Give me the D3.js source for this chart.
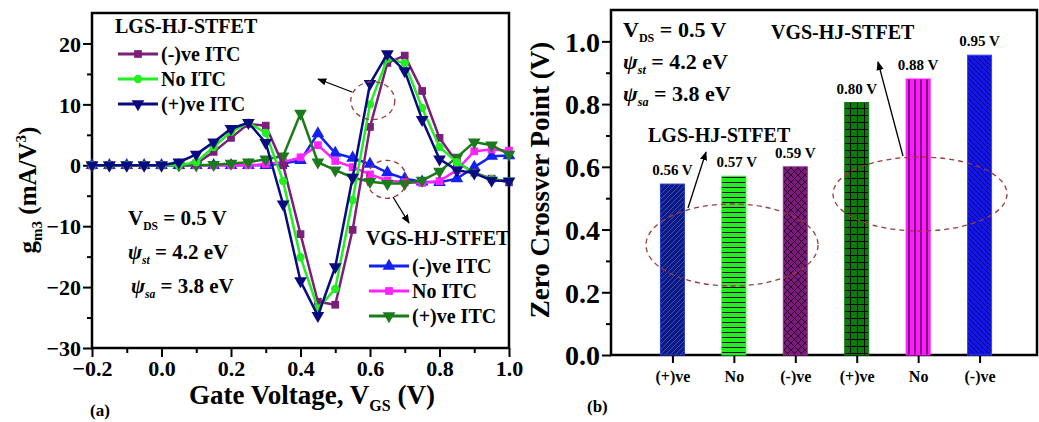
<!DOCTYPE html>
<html>
<head>
<meta charset="utf-8">
<script src="https://cdn.jsdelivr.net/npm/d3@7"></script>
<style>
  body { margin: 0; background: #fff; }
  svg { font-family: "Liberation Serif", "Times New Roman", serif; font-weight: bold; }
</style>
</head>
<body>
<div id="chart"></div>
<script>
// ---- data: panel (a) ----
const vgs = [-0.2, -0.15, -0.1, -0.05, 0.0, 0.05, 0.1, 0.15, 0.2, 0.25, 0.3, 0.35, 0.4,
  0.45, 0.5, 0.55, 0.6, 0.65, 0.7, 0.75, 0.8, 0.85, 0.9, 0.95, 1.0];
const lgsNeg = [0, 0, 0, 0, 0, 0, 0.3, 2.2, 4.5, 6.8, 6.5, 0, -11.3, -22.4, -22.9, -10.6, 6.3, 16.8, 18, 12.2, 4.5, 0.5, -1.2, -2.2, -2.8];
const lgsNo = [0, 0, 0, 0, 0, 0, 0.5, 3, 5.5, 7, 5.3, -2.6, -15.1, -23.5, -20.3, -5.7, 10, 17.5, 16.8, 9.4, 3, 0.5, -1.3, -2.3, -2.6];
const lgsPos = [0, 0, 0, 0, 0, 0.5, 1.8, 3.8, 6, 7, 3.7, -6.4, -19, -24.7, -16.7, -2, 13.4, 18.3, 15.5, 7.5, 1, -0.8, -1.3, -2.5, -2.6];
const vgsNeg = [0, 0, 0, 0, 0, 0, 0, 0, 0, 0, 0, 0.3, 0.8, 5.2, 2, 1.2, 0.2, -1.2, -2.2, -2.7, -2.8, -2.2, -0.3, 1.5, 1.6];
const vgsNo = [0, 0, 0, 0, 0, 0, 0, 0, 0, 0, 0.2, 0.5, 1.3, 3.3, 0.7, -0.3, -1.5, -2.5, -2.8, -2.9, -2.6, -0.8, 2.3, 2.6, 2.4];
const vgsPos = [0, 0, 0, 0, 0, 0, 0, 0.1, 0.3, 0.5, 1, 1.5, 8.5, 0.5, -0.8, -2, -2.7, -3, -3, -2.5, -1, 1.3, 3.8, 3.3, 1.8];
const seriesNames = ['(-)ve ITC', 'No ITC', '(+)ve ITC'];
const yTicksA = [-30, -20, -10, 0, 10, 20];
const xTicksA = [-0.2, 0.0, 0.2, 0.4, 0.6, 0.8, 1.0];

// ---- data: panel (b) ----
const barCats = ['(+)ve', 'No', '(-)ve', '(+)ve', 'No', '(-)ve'];
const barValues = [0.545, 0.57, 0.6, 0.805, 0.88, 0.956];
const barLabels = ['0.56 V', '0.57 V', '0.59 V', '0.80 V', '0.88 V', '0.95 V'];
const yTicksB = [0.0, 0.2, 0.4, 0.6, 0.8, 1.0];

const width = 1039, height = 422;
const svg = d3.select('#chart').append('svg').attr('width', width).attr('height', height);
const defs = svg.append('defs');

// ================= panel (a) =================
const xA = d3.scaleLinear().domain([-0.2, 1.0]).range([92, 509]);
const yA = d3.scaleLinear().domain([-30, 25]).range([348, 13]);

const gA = svg.append('g');

// ticks helper
const addTicks = (g, axis, pos) => g.append('g').attr('transform', pos).call(axis)
  .call(s => s.select('.domain').remove())
  .call(s => s.selectAll('line').attr('stroke', '#000').attr('stroke-width', 2));

// minor ticks
addTicks(gA, d3.axisLeft(yA).tickValues(d3.range(-25, 25, 10)).tickSize(5).tickFormat(''), 'translate(92,0)');
addTicks(gA, d3.axisBottom(xA).tickValues(d3.range(-0.1, 1.0, 0.2)).tickSize(5).tickFormat(''), 'translate(0,348)');

const yAxA = addTicks(gA, d3.axisLeft(yA).tickValues(yTicksA).tickSize(9).tickPadding(2).tickFormat(d3.format('d')), 'translate(92,0)');
yAxA.selectAll('text').attr('font-size', 22).attr('font-family', 'Liberation Serif').attr('font-weight', 'bold').attr('fill', '#000').attr('dy', '0.35em');
const xAxA = addTicks(gA, d3.axisBottom(xA).tickValues(xTicksA).tickSize(9).tickPadding(3).tickFormat(d3.format('.1f')), 'translate(0,348)');
xAxA.selectAll('text').attr('font-size', 22).attr('font-family', 'Liberation Serif').attr('font-weight', 'bold').attr('fill', '#000');

// frame
gA.append('rect').attr('x', xA(-0.2)).attr('y', yA(25)).attr('width', xA(1.0) - xA(-0.2)).attr('height', yA(-30) - yA(25))
  .attr('fill', 'none').attr('stroke', '#000').attr('stroke-width', 2.5);

const curves = [
  { data: lgsNeg, color: '#7b1f7b', sym: 'square' },
  { data: lgsNo, color: '#22ee22', sym: 'circle' },
  { data: lgsPos, color: '#0a0a80', sym: 'down' },
  { data: vgsNeg, color: '#1420f0', sym: 'up' },
  { data: vgsNo, color: '#ff22ff', sym: 'square' },
  { data: vgsPos, color: '#1b7a1b', sym: 'down' }
];

const symPath = (t) => {
  if (t === 'square') return d3.symbol(d3.symbolSquare, 60)();
  if (t === 'circle') return d3.symbol(d3.symbolCircle, 55)();
  return d3.symbol(d3.symbolTriangle, 70)();
};
const symRot = t => t === 'down' ? ' rotate(180)' : '';

const line = d3.line().x((d, i) => xA(vgs[i])).y(d => yA(d));
const plot = gA.append('g');
// VGS curves first, LGS on top
[3, 4, 5, 0, 1, 2].forEach(k => {
  const c = curves[k];
  plot.append('path').datum(c.data).attr('d', line)
    .attr('fill', 'none').attr('stroke', c.color).attr('stroke-width', 2.5);
  plot.selectAll(null).data(c.data).enter().append('path')
    .attr('d', symPath(c.sym))
    .attr('transform', (d, i) => `translate(${xA(vgs[i])},${yA(d)})${symRot(c.sym)}`)
    .attr('fill', c.color);
});

// legends
const legend = (g, x, y, title, items) => {
  g.append('text').attr('x', x - 3).attr('y', y).attr('font-size', 20).text(title);
  items.forEach((c, i) => {
    const ly = y + 21 + i * 25;
    g.append('line').attr('x1', x).attr('x2', x + 40).attr('y1', ly).attr('y2', ly)
      .attr('stroke', c.color).attr('stroke-width', 3);
    g.append('path').attr('d', symPath(c.sym))
      .attr('transform', `translate(${x + 20},${ly})${symRot(c.sym)}`).attr('fill', c.color);
    g.append('text').attr('x', x + 43).attr('y', ly + 7).attr('font-size', 20).text(seriesNames[i]);
  });
};
legend(gA, 118, 33, 'LGS-HJ-STFET', curves.slice(0, 3));
legend(gA, 369, 245, 'VGS-HJ-STFET', curves.slice(3, 6));

// parameter block
const params = (g, x, y, fs, gap) => {
  const t1 = g.append('text').attr('x', x).attr('y', y).attr('font-size', fs);
  t1.append('tspan').text('V');
  t1.append('tspan').attr('font-size', fs * 0.55).attr('dy', 5).text('DS');
  t1.append('tspan').attr('dy', -5).text(' = 0.5 V');
  const t2 = g.append('text').attr('x', x).attr('y', y + gap).attr('font-size', fs);
  t2.append('tspan').attr('font-style', 'italic').text('ψ');
  t2.append('tspan').attr('font-style', 'italic').attr('font-size', fs * 0.55).attr('dy', 5).text('st');
  t2.append('tspan').attr('dy', -5).text(' = 4.2 eV');
  const t3 = g.append('text').attr('x', x + (fs > 21 ? 0 : 3)).attr('y', y + 2 * gap).attr('font-size', fs);
  t3.append('tspan').attr('font-style', 'italic').text('ψ');
  t3.append('tspan').attr('font-style', 'italic').attr('font-size', fs * 0.55).attr('dy', 5).text('sa');
  t3.append('tspan').attr('dy', -5).text(' = 3.8 eV');
};
params(gA, 128, 225, 21, 34);

// dashed ellipses and arrows
const marker = defs.append('marker').attr('id', 'arr').attr('viewBox', '0 0 10 10')
  .attr('refX', 9).attr('refY', 5).attr('markerWidth', 7).attr('markerHeight', 7)
  .attr('orient', 'auto-start-reverse');
marker.append('path').attr('d', 'M0,1 L10,5 L0,9 z').attr('fill', '#000');

const ell = (g, cx, cy, rx, ry) => g.append('ellipse').attr('cx', cx).attr('cy', cy).attr('rx', rx).attr('ry', ry)
  .attr('fill', 'none').attr('stroke', '#9b3a3a').attr('stroke-width', 1.3).attr('stroke-dasharray', '5,4');
const arrow = (g, x1, y1, x2, y2) => g.append('line').attr('x1', x1).attr('y1', y1).attr('x2', x2).attr('y2', y2)
  .attr('stroke', '#000').attr('stroke-width', 1.3).attr('marker-end', 'url(#arr)');

ell(gA, xA(0.608), yA(10.6), 22, 19);
arrow(gA, 352, 92, 318, 79);
ell(gA, xA(0.648), yA(-2.3), 20, 19);
arrow(gA, 393, 197, 409, 223);

// axis titles
const yt = gA.append('text').attr('transform', 'translate(36,190) rotate(-90)').attr('text-anchor', 'middle').attr('font-size', 25);
yt.append('tspan').text('g');
yt.append('tspan').attr('font-size', 15).attr('dy', 6).text('m3');
yt.append('tspan').attr('dy', -6).text(' (mA/V');
yt.append('tspan').attr('font-size', 15).attr('dy', -10).text('3');
yt.append('tspan').attr('dy', 10).text(')');

const xt = gA.append('text').attr('x', 312).attr('y', 404).attr('text-anchor', 'middle').attr('font-size', 27);
xt.append('tspan').text('Gate Voltage, V');
xt.append('tspan').attr('font-size', 16).attr('dy', 7).text('GS');
xt.append('tspan').attr('dy', -7).text(' (V)');

gA.append('text').attr('x', 90).attr('y', 416).attr('font-size', 17).text('(a)');

// ================= panel (b) =================
const xB = d3.scaleLinear().domain([0, 7]).range([611, 1041]);
const yB = d3.scaleLinear().domain([0, 1.1]).range([355, 10]);
const gB = svg.append('g');

// patterns
const pat = (id, bg, size, lines, stroke, sw) => {
  const p = defs.append('pattern').attr('id', id).attr('patternUnits', 'userSpaceOnUse')
    .attr('width', size).attr('height', size);
  p.append('rect').attr('width', size).attr('height', size).attr('fill', bg);
  lines.forEach(d => p.append('path').attr('d', d).attr('stroke', stroke).attr('stroke-width', sw).attr('fill', 'none'));
};
pat('p0', '#0b1a80', 5, ['M0,5 L5,0', 'M-1,1 L1,-1', 'M4,6 L6,4'], '#3a4cc0', 1);
pat('p1', '#22ee22', 5, ['M0,2.5 L5,2.5'], '#000', 1);
pat('p2', '#7e1a7e', 7, ['M0,7 L7,0', 'M0,0 L7,7', 'M-1,1 L1,-1', 'M6,8 L8,6', 'M-1,6 L1,8', 'M6,-1 L8,1'], '#1a001a', 0.9);
pat('p3', '#0e7a0e', 7, ['M0,3.5 L7,3.5', 'M3.5,0 L3.5,7'], '#000', 1);
pat('p4', '#ff1aff', 6, ['M3,0 L3,6'], '#000', 1);
pat('p5', '#1414ee', 5, ['M0,0 L5,5', 'M-1,4 L1,6', 'M4,-1 L6,1'], '#0a0a70', 1);
const barStroke = ['#2a3acc', '#22ee22', '#9b2a9b', '#0e7a0e', '#ff1aff', '#3344ff'];

addTicks(gB, d3.axisLeft(yB).tickValues(d3.range(0.1, 1.1, 0.2)).tickSize(5).tickFormat(''), 'translate(611,0)');
const yAxB = addTicks(gB, d3.axisLeft(yB).tickValues(yTicksB).tickSize(9).tickPadding(2).tickFormat(d3.format('.1f')), 'translate(611,0)');
yAxB.selectAll('text').attr('font-size', 28).attr('font-family', 'Liberation Serif').attr('font-weight', 'bold').attr('fill', '#000').attr('dy', '0.35em');
const xAxB = addTicks(gB, d3.axisBottom(xB).tickValues(d3.range(1, 7)).tickSize(8).tickPadding(8).tickFormat(i => barCats[i - 1]), 'translate(0,355)');
xAxB.selectAll('text').attr('font-size', 16).attr('font-family', 'Liberation Serif').attr('font-weight', 'bold').attr('fill', '#000');

gB.append('path').attr('d', `M611,355 L611,10 L1037,10 L1037,355 Z`)
  .attr('fill', 'none').attr('stroke', '#000').attr('stroke-width', 2.5);

const bw = 24;
gB.selectAll('rect.bar').data(barValues).enter().append('rect').classed('bar', true)
  .attr('x', (d, i) => xB(i + 1) - bw / 2)
  .attr('y', d => yB(d))
  .attr('width', bw)
  .attr('height', d => yB(0) - yB(d))
  .attr('fill', (d, i) => `url(#p${i})`)
  .attr('stroke', (d, i) => barStroke[i]).attr('stroke-width', 1);

gB.selectAll('text.val').data(barValues).enter().append('text').classed('val', true)
  .attr('x', (d, i) => xB(i + 1) + (i === 1 ? 3 : 0))
  .attr('y', d => yB(d) - 9)
  .attr('text-anchor', 'middle').attr('font-size', 15)
  .text((d, i) => barLabels[i]);

params(gB, 623, 37, 22, 32);
gB.append('text').attr('x', 771).attr('y', 39).attr('font-size', 20).text('VGS-HJ-STFET');
gB.append('text').attr('x', 648).attr('y', 142).attr('font-size', 20).text('LGS-HJ-STFET');

ell(gB, 732, 245, 86, 41);
arrow(gB, 688, 208, 706, 152);
ell(gB, 920, 194, 87, 37);
arrow(gB, 903, 156, 878, 62);

gB.append('text').attr('transform', 'translate(549,180) rotate(-90)').attr('text-anchor', 'middle')
  .attr('font-size', 27).text('Zero Crossver Point (V)');
gB.append('text').attr('x', 587).attr('y', 412).attr('font-size', 17).text('(b)');
</script>
</body>
</html>
